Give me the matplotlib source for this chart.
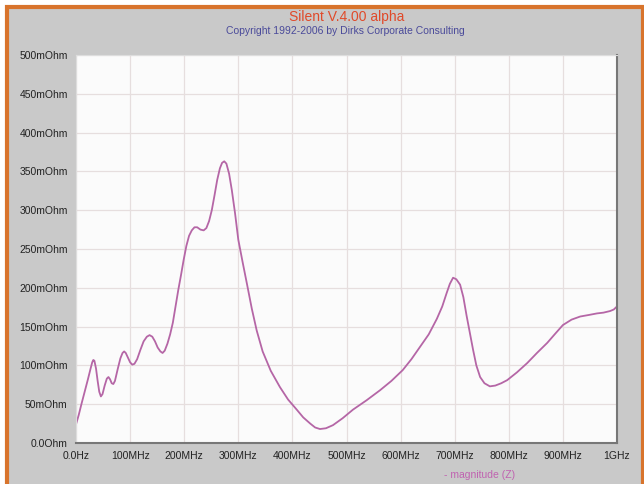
# impedance magnitude plot, Silent style
import matplotlib.pyplot as plt
from matplotlib.patches import Rectangle

plt.rcParams['font.family'] = ['Liberation Sans', 'DejaVu Sans']

# frequency in MHz, magnitude in mOhm
freq_mhz = [0, 5, 10, 16, 22, 27, 30, 32, 34, 37, 40, 43, 46, 49, 53, 57, 60,
            63, 66, 69, 72, 77, 82, 86, 89, 92, 96, 100, 104, 108, 113, 119,
            125, 131, 136, 141, 146, 151, 156, 160, 164, 169, 174, 179,
            184, 189, 194, 199, 204, 209, 214, 219, 224, 230, 236, 241, 246,
            251, 256, 261, 266, 270, 274, 278, 283, 288, 294, 300, 308, 316,
            325, 334, 345, 360, 377,
            392, 408, 420, 433, 442, 451, 462, 475, 493, 512, 537, 562, 583, 604,
            620, 636, 652, 667, 677, 685, 691, 697, 703, 710, 716, 722, 728, 734,
            740, 747, 755, 765, 775, 786, 797, 815, 834, 852, 871, 886, 900, 916,
            932, 948, 963, 975, 987, 994, 1000]
mag_mohm = [24, 36, 50, 66, 82, 96, 104, 107, 106, 96, 80, 66, 60, 63, 74, 83, 85,
            82, 77, 76, 80, 95, 109, 116, 118, 116, 110, 104, 101, 102, 108, 120,
            131, 137, 139, 137, 131, 123, 118, 116, 119, 128, 140, 155,
            176, 197, 216, 236, 254, 267, 274, 278, 278, 275, 274, 277, 286,
            300, 319, 339, 354, 361, 363, 360, 347, 326, 296, 262, 233, 205,
            173, 145, 118, 93, 72,
            56, 43, 33, 25, 20, 18, 19, 23, 32, 43, 55, 68, 80, 94,
            108, 124, 140, 160, 176, 193, 205, 213, 211, 204, 188, 164, 142, 120,
            100, 85, 77, 73, 74, 77, 81, 91, 103, 116, 129, 141, 152, 159,
            163, 165, 167, 168, 170, 172, 176]

ticks_x = [0, 100, 200, 300, 400, 500, 600, 700, 800, 900, 1000]
labels_x = ['0.0Hz', '100MHz', '200MHz', '300MHz', '400MHz', '500MHz',
            '600MHz', '700MHz', '800MHz', '900MHz', '1GHz']
ticks_y = [0, 50, 100, 150, 200, 250, 300, 350, 400, 450, 500]
labels_y = ['0.0Ohm'] + ['%dmOhm' % v for v in ticks_y[1:]]

fig = plt.figure(figsize=(6.44, 4.84), dpi=100)
fig.patch.set_facecolor('white')

# grey panel with orange frame
fig.patches.append(Rectangle((7 / 644, -0.05), 636 / 644, 1.05 - 7 / 484,
                             transform=fig.transFigure, facecolor='#c9c9c9',
                             edgecolor='#d8742c', linewidth=3, zorder=-1))

ax = fig.add_axes([76 / 644, 41 / 484, 541 / 644, 388 / 484])
ax.set_facecolor('#fbfbfb')
ax.plot(freq_mhz, mag_mohm, color='#b566a6', linewidth=1.3,
        solid_joinstyle='round')

ax.set_xlim(0, 1000)
ax.set_ylim(0, 500)
ax.set_xticks(ticks_x)
ax.set_xticklabels(labels_x)
ax.set_yticks(ticks_y)
ax.set_yticklabels(labels_y)
ax.tick_params(length=0, labelsize=7.5, colors='#222222', pad=6)
ax.grid(True, color='#e6dede', linewidth=0.9)
for side in ['top', 'left']:
    ax.spines[side].set_color('#dddddd')
for side in ['bottom', 'right']:
    ax.spines[side].set_color('#777777')
    ax.spines[side].set_linewidth(1.5)

fig.text(347 / 644, 1 - 17 / 484, 'Silent V.4.00 alpha', color='#e04a2a',
         fontsize=10, ha='center', va='center')
fig.text(345 / 644, 1 - 31 / 484, 'Copyright 1992-2006 by Dirks Corporate Consulting',
         color='#4a4a9a', fontsize=7.5, ha='center', va='center')
fig.text(480 / 644, 1 - 475 / 484, '- magnitude (Z)', color='#c062b0',
         fontsize=7.5, ha='center', va='center')

plt.savefig('out.png', dpi=100)
